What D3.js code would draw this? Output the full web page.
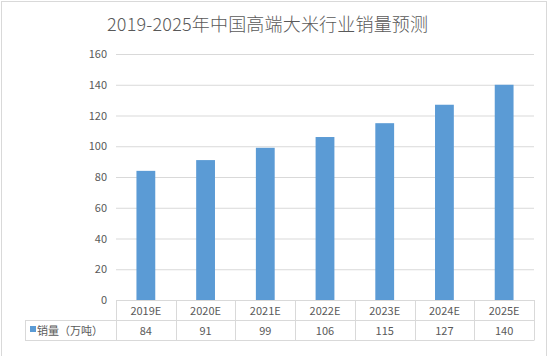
<!DOCTYPE html>
<html><head><meta charset="utf-8">
<script src="https://cdn.jsdelivr.net/npm/d3@7"></script>
<style>body{margin:0;background:#fff;} svg{display:block;}</style>
</head><body>
<svg id="c" width="550" height="356"></svg>
<script>
const title = "2019-2025年中国高端大米行业销量预测";
const categories = ["2019E","2020E","2021E","2022E","2023E","2024E","2025E"];
const values = [84, 91, 99, 106, 115, 127, 140];
const seriesName = "销量（万吨）";
const yTicks = [0,20,40,60,80,100,120,140,160];

const svg = d3.select("#c");
const font = "'Noto Sans CJK SC', 'Microsoft YaHei', sans-serif";
const textColor = "#595959", gridColor = "#D9D9D9", barColor = "#5B9BD5";

svg.append("rect").attr("x",1.5).attr("y",1.5).attr("width",545).attr("height",360)
  .attr("fill","#fff").attr("stroke","#D9D9D9");

svg.append("text").attr("x",267.5).attr("y",31).attr("text-anchor","middle")
  .attr("font-family",font).attr("font-size",18).attr("font-weight",300)
  .attr("textLength",321).attr("lengthAdjust","spacing")
  .attr("fill",textColor).text(title);

const pLeft = 116, pRight = 534, pTop = 54, pBottom = 300;
const x = d3.scaleBand().domain(categories).range([pLeft,pRight]).paddingInner(0.685).paddingOuter(0.3425);
const xb = d3.scaleBand().domain(categories).range([pLeft,pRight]);
const y = d3.scaleLinear().domain([0,160]).range([pBottom,pTop]);

const yAxis = d3.axisLeft(y).tickValues(yTicks).tickSize(-(pRight-pLeft)).tickPadding(9);
const gy = svg.append("g").attr("transform",`translate(${pLeft},0)`).call(yAxis);
gy.select(".domain").remove();
gy.selectAll(".tick line").attr("stroke",gridColor).attr("stroke-width",1);
gy.selectAll(".tick text").attr("font-family",font).attr("font-size",11).attr("fill",textColor);

svg.append("g").selectAll("rect").data(values).join("rect")
  .attr("x",(d,i)=>x(categories[i])).attr("width",x.bandwidth())
  .attr("y",d=>y(d)).attr("height",d=>y(0)-y(d)).attr("fill",barColor);

// data table
const tLeft = 25, row1 = pBottom, row2 = 320.5, row3 = 340.5;
const tg = svg.append("g").attr("stroke",gridColor).attr("stroke-width",1).attr("fill","none");
tg.append("line").attr("x1",pLeft).attr("x2",pRight).attr("y1",row1+0.5).attr("y2",row1+0.5);
tg.append("line").attr("x1",tLeft).attr("x2",pRight).attr("y1",row2).attr("y2",row2);
tg.append("line").attr("x1",tLeft).attr("x2",pRight).attr("y1",row3).attr("y2",row3);
tg.append("line").attr("x1",tLeft+0.5).attr("x2",tLeft+0.5).attr("y1",row2).attr("y2",row3);
const xs = categories.map(c=>xb(c)).concat([pRight]);
tg.selectAll("line.v").data(xs).join("line").attr("class","v")
  .attr("x1",d=>Math.round(d)+0.5).attr("x2",d=>Math.round(d)+0.5).attr("y1",row1).attr("y2",row3);

svg.append("g").selectAll("text").data(categories).join("text")
  .attr("x",d=>xb(d)+xb.bandwidth()/2).attr("y",314.5).attr("text-anchor","middle")
  .attr("font-family",font).attr("font-size",11).attr("fill",textColor).text(d=>d);
svg.append("g").selectAll("text").data(values).join("text")
  .attr("x",(d,i)=>xb(categories[i])+xb.bandwidth()/2).attr("y",334.5).attr("text-anchor","middle")
  .attr("font-family",font).attr("font-size",11).attr("fill",textColor).text(d=>d);

svg.append("rect").attr("x",30).attr("y",326).attr("width",6).attr("height",6).attr("fill",barColor);
svg.append("text").attr("x",37).attr("y",334.5).attr("font-family",font).attr("font-size",11)
  .attr("fill",textColor).text(seriesName);
</script>
</body></html>
